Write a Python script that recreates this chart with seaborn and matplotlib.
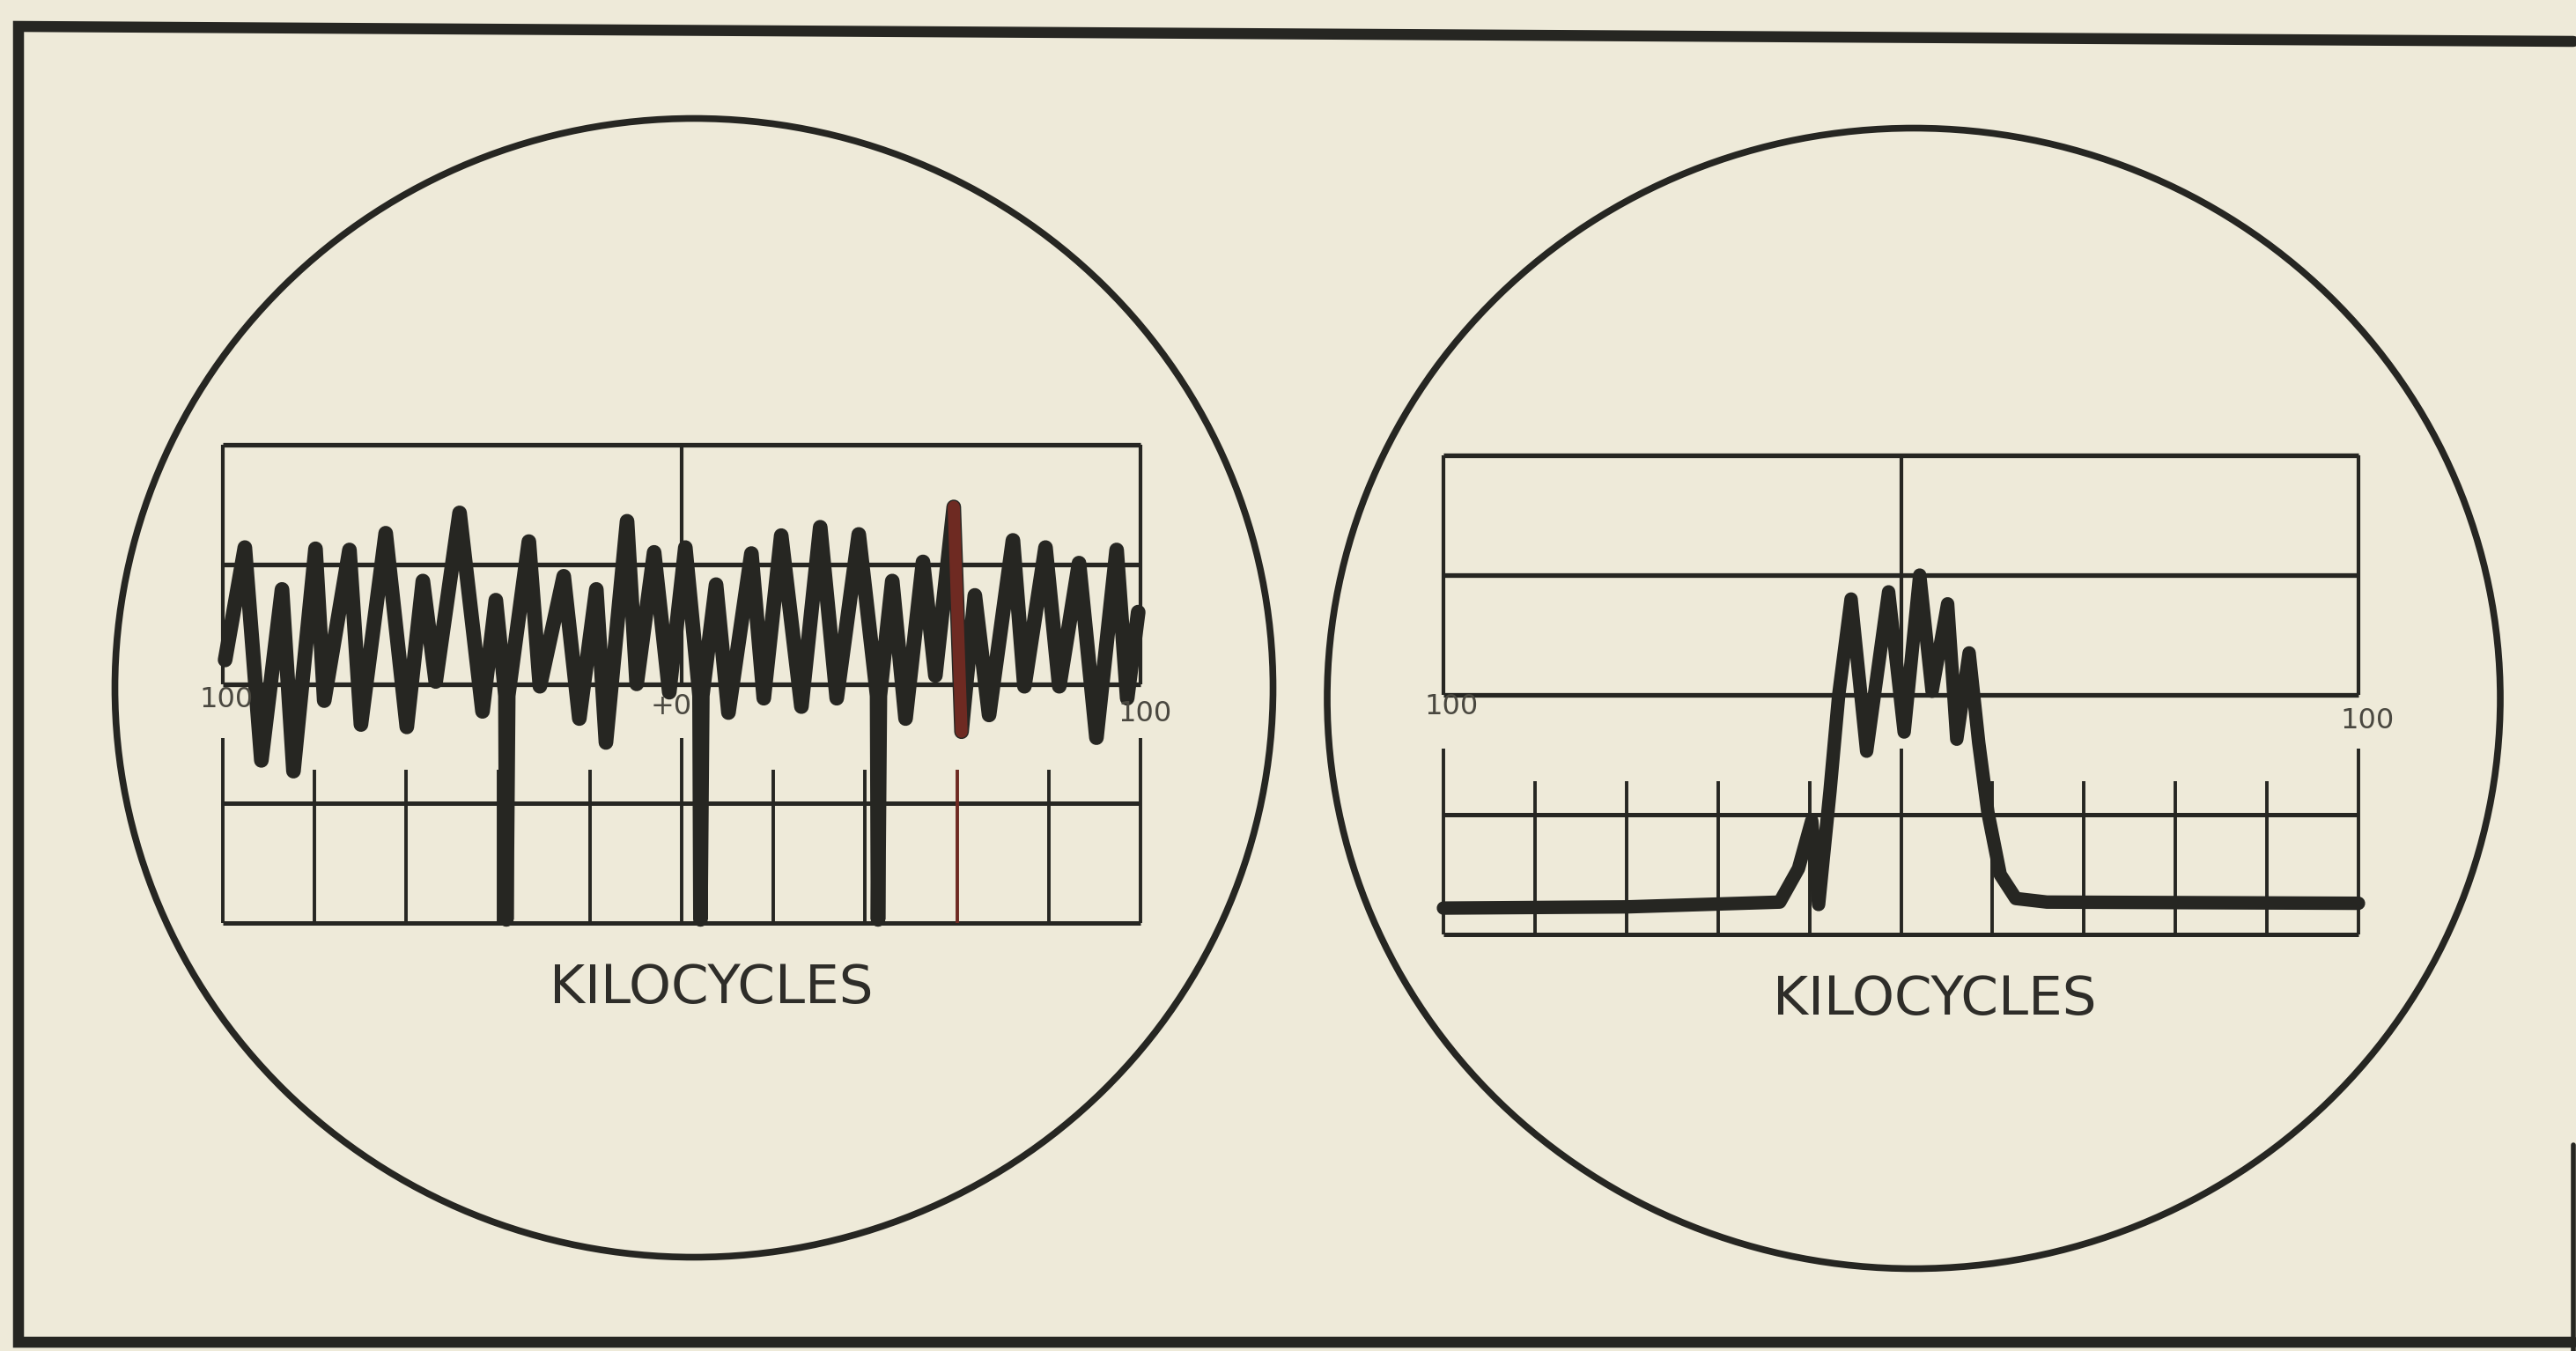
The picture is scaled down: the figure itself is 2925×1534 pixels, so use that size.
import matplotlib
matplotlib.use("Agg")
import matplotlib.pyplot as plt
from matplotlib.patches import Ellipse
import seaborn as sns

# Values (x in kHz, y in screen divisions)
left_khz = [-99.5, -95.2, -91.6, -87.1, -84.6, -79.8, -77.9, -72.4, -69.9, -64.5,
            -59.9, -56.4, -53.6, -48.4, -43.4, -40.5, -38.4, -38.2, -37.8, -33.3,
            -30.9, -25.7, -22.3, -18.6, -16.5, -11.9, -9.8, -6.0, -2.7, 0.8,
            3.9, 4.1, 4.5, 7.5, 10.2, 15.2, 17.9, 21.7, 26.1, 30.2,
            33.8, 38.6, 42.6, 42.8, 43.2, 45.9, 48.8, 52.6, 55.3, 59.3,
            61.0, 63.9, 67.0, 72.2, 74.7, 79.3, 82.3, 86.6, 90.4, 94.8,
            97.1, 99.5]
left_level = [2.2, 3.14, 1.36, 2.79, 1.27, 3.13, 1.86, 3.12, 1.66, 3.26,
              1.64, 2.86, 2.02, 3.43, 1.77, 2.7, 1.9, 0.03, 1.9, 3.19,
              1.98, 2.9, 1.71, 2.79, 1.51, 3.36, 2.0, 3.1, 1.93, 3.14,
              1.9, 0.03, 1.9, 2.83, 1.76, 3.09, 1.88, 3.24, 1.81, 3.31,
              1.88, 3.25, 1.9, 0.03, 1.9, 2.86, 1.71, 3.02, 2.07, 3.48,
              1.6, 2.74, 1.74, 3.2, 1.98, 3.14, 1.98, 3.01, 1.55, 3.12,
              1.88, 2.6]

# the one peak printed in red-brown
red_khz = [59.3, 61.0]
red_level = [3.48, 1.6]

right_khz = [-100, -60, -26.5, -22.4, -19.5, -18.0, -15.5, -13.6, -10.9, -7.5,
             -2.7, 0.7, 4.1, 6.8, 10.2, 12.2, 14.9, 17.0, 19.0, 21.7,
             25.1, 31.9, 100]
right_level = [0.22, 0.23, 0.27, 0.55, 0.95, 0.25, 1.2, 2.0, 2.8, 1.53,
               2.86, 1.69, 3.0, 2.03, 2.76, 1.63, 2.35, 1.6, 1.02, 0.5,
               0.3, 0.27, 0.26]

tick_khz = [-100, -80, -60, -40, -20, 0, 20, 40, 60, 80, 100]
long_ticks = [-100, 0, 100]
box_levels = [2, 3, 4]
lower_levels = [0, 1]

left_scale_text = ["100", "+0", "100"]
left_scale_khz = [-99.2, -2.3, 101.0]
left_scale_level = [1.87, 1.81, 1.75]
right_scale_text = ["100", "100"]
right_scale_khz = [-98.3, 102.0]
right_scale_level = [1.9, 1.78]
axis_title = "KILOCYCLES"

W, H = 2925, 1534
PAPER = "#eeead9"
INK = "#262622"
RED = "#6e2a22"

sns.set_theme(style="white")
plt.rcParams["font.family"] = ["DejaVu Sans"]

fig = plt.figure(figsize=(W / 100, H / 100), dpi=100)
fig.patch.set_facecolor(PAPER)

# page: frame and the two round screens, in pixel units
bg = fig.add_axes([0, 0, 1, 1])
bg.set_xlim(0, W)
bg.set_ylim(H, 0)
bg.axis("off")
bg.plot([2922, 21, 21, 2922], [47, 30, 1524, 1524], color=INK, lw=9,
        solid_joinstyle="miter")
bg.plot([2922, 2922], [1300, 1534], color=INK, lw=4)
bg.add_patch(Ellipse((788, 781), 1315, 1293, fill=False, ec=INK, lw=5.5))
bg.add_patch(Ellipse((2173, 793), 1332, 1295, fill=False, ec=INK, lw=5.5))


def panel_axes(x_lo, x_hi, y0, y4, xlim=(-108, 108), ylim=(-1.0, 4.3)):
    # x_lo/x_hi: pixel of -100/+100 kHz, y0/y4: pixel of levels 0 and 4
    sx = (x_hi - x_lo) / 200
    sy = (y0 - y4) / 4
    left = x_lo + (xlim[0] + 100) * sx
    right = x_lo + (xlim[1] + 100) * sx
    bottom = y0 - ylim[0] * sy
    top = y0 - ylim[1] * sy
    ax = fig.add_axes([left / W, 1 - bottom / H, (right - left) / W, (bottom - top) / H])
    ax.set_xlim(xlim)
    ax.set_ylim(ylim)
    ax.axis("off")
    return ax


def graticule(ax, red_tick=None):
    ax.hlines(box_levels, -100, 100, color=INK, lw=3.8, zorder=1)
    ax.vlines([-100, 0, 100], 2, 4, color=INK, lw=3.0, zorder=1)
    ax.hlines(lower_levels, -100, 100, color=INK, lw=3.6, zorder=1)
    for k in tick_khz:
        top = 1.55 if k in long_ticks else 1.28
        col = RED if k == red_tick else INK
        ax.vlines(k, 0, top, color=col, lw=2.8, zorder=1)


def trace(ax, xs, ys, color=INK, lw=12):
    sns.lineplot(x=xs, y=ys, ax=ax, sort=False, estimator=None, color=color,
                 linewidth=lw, solid_joinstyle="round", solid_capstyle="round",
                 zorder=3, legend=False)


# left screen
axl = panel_axes(253, 1295, 1048, 505)
graticule(axl, red_tick=60)
trace(axl, left_khz, left_level)
trace(axl, red_khz, red_level, color=RED, lw=10)
for t, x, y in zip(left_scale_text, left_scale_khz, left_scale_level):
    axl.text(x, y, t, ha="center", va="center", fontsize=23, color="#4a4840", zorder=4)
axl.text(6.4, -0.55, axis_title, ha="center", va="center", fontsize=44, color="#2e2d29")

# right screen
axr = panel_axes(1639, 2678, 1061, 517)
graticule(axr)
trace(axr, right_khz, right_level, lw=11)
for t, x, y in zip(right_scale_text, right_scale_khz, right_scale_level):
    axr.text(x, y, t, ha="center", va="center", fontsize=23, color="#4a4840", zorder=4)
axr.text(7.3, -0.55, axis_title, ha="center", va="center", fontsize=44, color="#2e2d29")

fig.savefig("out.png", dpi=100, facecolor=PAPER)
